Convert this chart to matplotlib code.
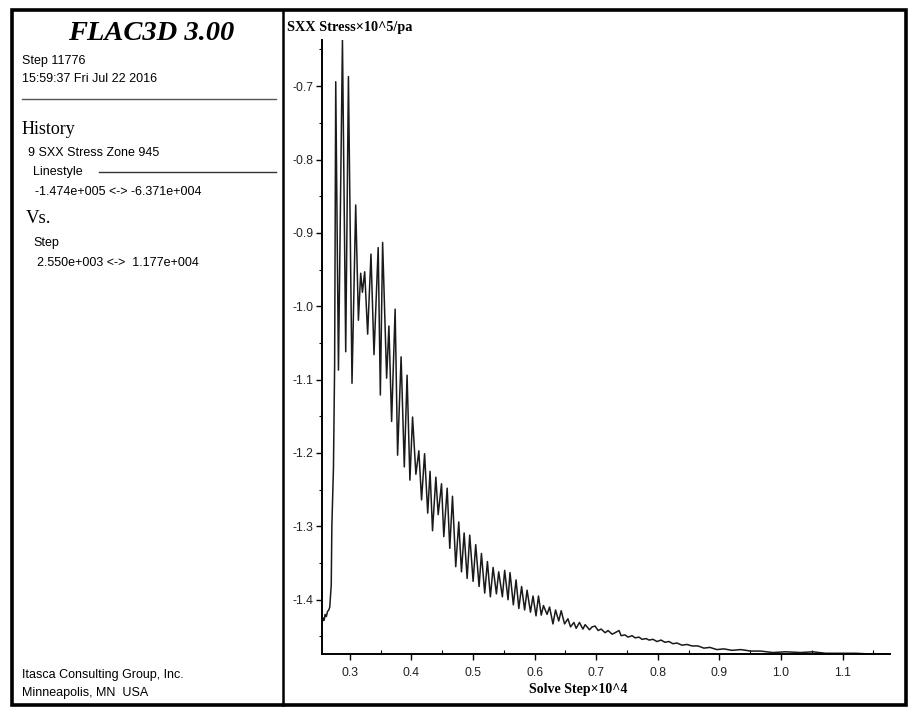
import matplotlib

matplotlib.use("Agg")
import matplotlib.pyplot as plt
from matplotlib.lines import Line2D
from matplotlib.patches import Rectangle
from matplotlib.ticker import MultipleLocator, FormatStrFormatter

# history 9: SXX stress (x10^5 Pa) vs solve step (x10^4)
step = [
    0.2550, 0.2570, 0.2585, 0.2600, 0.2620, 0.2640, 0.2660, 0.2676, 0.2700, 0.2710,
    0.2736, 0.2755, 0.2773, 0.2817, 0.2882, 0.2935, 0.2979, 0.3037, 0.3097, 0.3141,
    0.3178, 0.3206, 0.3243, 0.3291, 0.3345, 0.3394, 0.3462, 0.3497, 0.3534, 0.3599,
    0.3636, 0.3680, 0.3737, 0.3777, 0.3834, 0.3886, 0.3931, 0.3977, 0.4020, 0.4074,
    0.4122, 0.4166, 0.4215, 0.4266, 0.4304, 0.4344, 0.4398, 0.4436, 0.4490, 0.4527,
    0.4582, 0.4624, 0.4668, 0.4721, 0.4770, 0.4814, 0.4857, 0.4906, 0.4948, 0.5003,
    0.5045, 0.5100, 0.5138, 0.5191, 0.5235, 0.5283, 0.5327, 0.5381, 0.5418, 0.5478,
    0.5515, 0.5570, 0.5602, 0.5656, 0.5700, 0.5745, 0.5790, 0.5839, 0.5879, 0.5934,
    0.5975, 0.6024, 0.6064, 0.6109, 0.6145, 0.6203, 0.6244, 0.6299, 0.6341, 0.6393,
    0.6433, 0.6487, 0.6542, 0.6584, 0.6639, 0.6676, 0.6729, 0.6785, 0.6822, 0.6892,
    0.6935, 0.6984, 0.7032, 0.7081, 0.7146, 0.7194, 0.7259, 0.7308, 0.7372, 0.7405,
    0.7470, 0.7518, 0.7583, 0.7632, 0.7696, 0.7745, 0.7810, 0.7858, 0.7923, 0.7988,
    0.8053, 0.8117, 0.8182, 0.8247, 0.8312, 0.8393, 0.8474, 0.8555, 0.8652, 0.8749,
    0.8846, 0.8960, 0.9073, 0.9202, 0.9348, 0.9510, 0.9672, 0.9866, 1.0077, 1.0320,
    1.0514, 1.0725, 1.0968, 1.1211, 1.1453, 1.1770,
]
sxx = [
    -1.432, -1.425, -1.428, -1.420, -1.423, -1.416, -1.414, -1.410, -1.380, -1.300,
    -1.220, -1.080, -0.694, -1.087, -0.6373, -1.062, -0.687, -1.105, -0.862, -1.019,
    -0.955, -0.981, -0.953, -1.038, -0.929, -1.066, -0.920, -1.121, -0.913, -1.098,
    -1.027, -1.157, -1.004, -1.203, -1.069, -1.219, -1.094, -1.237, -1.151, -1.229,
    -1.197, -1.264, -1.201, -1.282, -1.225, -1.306, -1.233, -1.284, -1.242, -1.314,
    -1.248, -1.330, -1.259, -1.355, -1.294, -1.362, -1.309, -1.371, -1.312, -1.375,
    -1.325, -1.382, -1.337, -1.391, -1.348, -1.396, -1.356, -1.392, -1.362, -1.396,
    -1.360, -1.400, -1.363, -1.407, -1.373, -1.412, -1.382, -1.414, -1.387, -1.417,
    -1.395, -1.422, -1.395, -1.421, -1.408, -1.420, -1.410, -1.433, -1.414, -1.429,
    -1.415, -1.433, -1.426, -1.437, -1.431, -1.439, -1.431, -1.440, -1.434, -1.441,
    -1.437, -1.436, -1.442, -1.440, -1.445, -1.442, -1.447, -1.445, -1.442, -1.449,
    -1.448, -1.451, -1.449, -1.452, -1.451, -1.454, -1.453, -1.455, -1.454, -1.457,
    -1.455, -1.458, -1.457, -1.460, -1.459, -1.462, -1.461, -1.463, -1.463, -1.466,
    -1.465, -1.468, -1.467, -1.469, -1.468, -1.470, -1.470, -1.472, -1.471, -1.472,
    -1.471, -1.473, -1.473, -1.473, -1.474, -1.4738,
]
x_range = (0.255, 1.177)
y_range = (-1.474, -0.6371)

info_lines = [
    ("Step 11776", 22, 61, "sans", 9),
    ("15:59:37 Fri Jul 22 2016", 22, 79, "sans", 9),
    ("History", 22, 130, "serif", 13),
    ("9 SXX Stress Zone 945", 28, 153, "sans", 9),
    ("Linestyle", 33, 172, "sans", 9),
    ("-1.474e+005 <-> -6.371e+004", 35, 192, "sans", 9),
    ("Vs.", 26, 219, "serif", 13.5),
    ("Step", 33, 243, "sans", 9),
    ("2.550e+003 <->  1.177e+004", 37, 263, "sans", 9),
    ("Itasca Consulting Group, Inc.", 22, 675, "sans", 9),
    ("Minneapolis, MN  USA", 22, 693, "sans", 9),
]

W, H = 909, 707
SANS = "Liberation Sans"
SERIF = "Liberation Serif"


def fx(px):
    return px / W


def fy(py):
    return 1 - py / H


fig = plt.figure(figsize=(W / 100, H / 100), dpi=100, facecolor="white")

# outer frame and panel divider
fig.add_artist(Rectangle((fx(12), fy(705)), fx(906) - fx(12), fy(10) - fy(705),
                         fill=False, edgecolor="black", linewidth=2.6, transform=fig.transFigure))
fig.add_artist(Line2D([fx(283), fx(283)], [fy(10), fy(705)], color="black", linewidth=1.8,
                      transform=fig.transFigure))
fig.add_artist(Line2D([fx(22), fx(276)], [fy(99), fy(99)], color="#555555", linewidth=1.0,
                      transform=fig.transFigure))
fig.add_artist(Line2D([fx(99), fx(276)], [fy(172), fy(172)], color="#333333", linewidth=1.0,
                      transform=fig.transFigure))

fig.text(fx(151), fy(34), "FLAC3D 3.00", family=SERIF, fontsize=20.5, fontweight="bold",
         fontstyle="italic", ha="center", va="center")
for txt, px, py, kind, size in info_lines:
    fig.text(fx(px), fy(py), txt, family=SANS if kind == "sans" else SERIF, fontsize=size,
             ha="left", va="center")

ax = fig.add_axes([fx(322), fy(654), fx(890) - fx(322), fy(40) - fy(654)])
ax.plot(step, sxx, color="#1a1a1a", linewidth=1.1)
ax.set_xlim(*x_range)
ax.set_ylim(*y_range)
for s in ("top", "right"):
    ax.spines[s].set_visible(False)
for s in ("left", "bottom"):
    ax.spines[s].set_linewidth(1.4)
ax.xaxis.set_major_locator(MultipleLocator(0.1))
ax.xaxis.set_minor_locator(MultipleLocator(0.05))
ax.yaxis.set_major_locator(MultipleLocator(0.1))
ax.yaxis.set_minor_locator(MultipleLocator(0.05))
ax.xaxis.set_major_formatter(FormatStrFormatter("%.1f"))
ax.yaxis.set_major_formatter(FormatStrFormatter("%.1f"))
ax.tick_params(axis="x", which="major", direction="out", length=4, width=1.0, labelsize=8.8, pad=5)
ax.tick_params(axis="x", which="minor", direction="in", length=3, width=0.8)
ax.tick_params(axis="y", which="major", direction="out", length=4, width=1.0, labelsize=8.8, pad=2)
ax.tick_params(axis="y", which="minor", direction="out", length=2.5, width=0.8)
for lab in ax.get_xticklabels() + ax.get_yticklabels():
    lab.set_family(SANS)
    lab.set_color("#222222")

fig.text(fx(287), fy(28), "SXX Stress×10^5/pa", family=SERIF, fontsize=10.3, fontweight="bold",
         ha="left", va="center")
fig.text(fx(578), fy(690), "Solve Step×10^4", family=SERIF, fontsize=10, fontweight="bold",
         ha="center", va="center")

fig.savefig("out.png", dpi=100, facecolor="white")
